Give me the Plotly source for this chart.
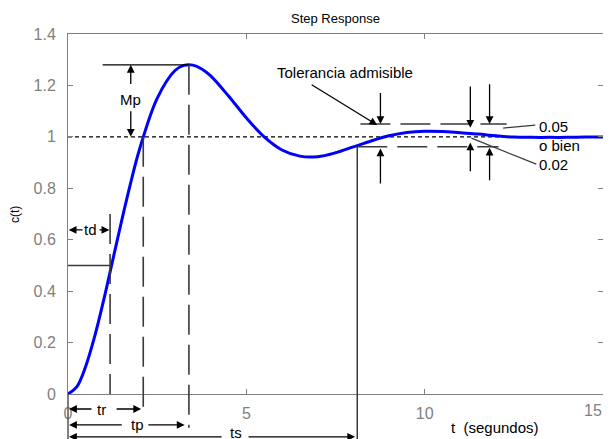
import plotly.graph_objects as go

# ---- data ----
t_vals = [0, 0.25, 0.5, 0.75, 1, 1.25, 1.5, 1.75, 2, 2.5, 3, 3.25, 3.5, 3.75, 4, 4.5, 5, 5.5,
          6, 6.5, 7, 7.5, 8, 8.5, 9, 9.5, 10, 10.5, 11, 11.5, 12, 12.5, 13, 13.5, 14, 14.5, 15]
c_vals = [0, 0.029, 0.109, 0.225, 0.365, 0.518, 0.671, 0.817, 0.949, 1.150, 1.258, 1.278, 1.279,
          1.264, 1.237, 1.159, 1.074, 1.000, 0.949, 0.925, 0.923, 0.938, 0.961, 0.984, 1.004,
          1.017, 1.022, 1.021, 1.016, 1.011, 1.004, 0.999, 0.998, 0.998, 0.998, 0.999, 0.999]

x_ticks = [0, 5, 10, 15]
x_tick_labels = ["0", "5", "10", "15"]
y_ticks = [0, 0.2, 0.4, 0.6, 0.8, 1.0, 1.2, 1.4]
y_tick_labels = ["0", "0.2", "0.4", "0.6", "0.8", "1", "1.2", "1.4"]

X_RANGE = [0, 15]
Y_RANGE = [0, 1.4]

# characteristic values
td = 1.18      # delay time
tr = 2.11      # rise time
tp = 3.39      # peak time
ts = 8.11      # settling time
c_peak = 1.28  # peak value
c_half = 0.5
c_final = 1.0
tol_hi = 1.05
tol_lo = 0.962

FONT = "Liberation Sans, Arial, sans-serif"
DARK = "#3a3a3a"
AXC = "#7f7f7f"


def py(c):
    """data value -> paper fraction on y"""
    return (c - Y_RANGE[0]) / (Y_RANGE[1] - Y_RANGE[0])


fig = go.Figure()
fig.add_trace(go.Scatter(x=t_vals, y=c_vals, mode="lines",
                         line=dict(color="#0000ff", width=3, shape="spline"),
                         hoverinfo="skip"))

shapes = []
LD = "30px,10px"
# final value line
shapes.append(dict(type="line", xref="x", yref="y", x0=0, x1=15, y0=c_final, y1=c_final,
                   line=dict(color="black", width=1.2, dash="4px,3px"), layer="below"))
# peak line
shapes.append(dict(type="line", xref="x", yref="y", x0=0.97, x1=tp, y0=c_peak, y1=c_peak,
                   line=dict(color="black", width=1.3)))
# 0.5 line
shapes.append(dict(type="line", xref="x", yref="y", x0=0, x1=td, y0=c_half, y1=c_half,
                   line=dict(color=DARK, width=1.5)))
# td dashed vertical
shapes.append(dict(type="line", xref="x", yref="y", x0=td, x1=td, y0=0.70, y1=0,
                   line=dict(color=DARK, width=1.6, dash=LD)))
# tr dashed vertical
shapes.append(dict(type="line", xref="x", yref="paper", x0=tr, x1=tr, y0=py(c_final), y1=-0.053,
                   line=dict(color=DARK, width=1.6, dash=LD)))
# tp dashed vertical
shapes.append(dict(type="line", xref="x", yref="paper", x0=tp, x1=tp, y0=py(c_peak), y1=-0.094,
                   line=dict(color=DARK, width=1.6, dash=LD)))
# ts solid vertical
shapes.append(dict(type="line", xref="x", yref="paper", x0=ts, x1=ts, y0=py(tol_lo), y1=-0.2,
                   line=dict(color=DARK, width=1.5)))
# t=0 line below axis
shapes.append(dict(type="line", xref="paper", yref="paper", x0=0, x1=0, y0=0, y1=-0.2,
                   line=dict(color="#555555", width=1.5)))
# tolerance band dashed lines
shapes.append(dict(type="line", xref="x", yref="y", x0=8.2, x1=12.3, y0=tol_hi, y1=tol_hi,
                   line=dict(color=DARK, width=1.5, dash=LD)))
shapes.append(dict(type="line", xref="x", yref="y", x0=ts, x1=12.07, y0=tol_lo, y1=tol_lo,
                   line=dict(color=DARK, width=1.5, dash=LD)))
# leaders to labels
shapes.append(dict(type="line", xref="x", yref="y", x0=12.2, x1=13.1, y0=1.034, y1=1.046,
                   line=dict(color=DARK, width=1.2)))
shapes.append(dict(type="line", xref="x", yref="y", x0=11.31, x1=13.13, y0=0.995, y1=0.894,
                   line=dict(color=DARK, width=1.2)))

ann = []


def arrow_data(hx, hy, tx, ty):
    ann.append(dict(x=hx, y=hy, ax=tx, ay=ty, xref="x", yref="y", axref="x", ayref="y",
                    text="", showarrow=True, arrowhead=2, arrowsize=1.2, arrowwidth=1.3,
                    arrowcolor="black", standoff=0))


def arrow_below(hx, yp, tx):
    ann.append(dict(x=hx, y=yp, ax=tx, ay=0, xref="x", yref="paper", axref="x", ayref="pixel",
                    text="", showarrow=True, arrowhead=2, arrowsize=1.2, arrowwidth=1.3,
                    arrowcolor="black", standoff=0))


def label(x, y, s, xref="x", yref="y", size=15, xanchor="center", yanchor="middle", color="black",
          angle=0, xshift=0):
    ann.append(dict(x=x, y=y, xref=xref, yref=yref, text=s, showarrow=False, xanchor=xanchor,
                    yanchor=yanchor, textangle=angle, xshift=xshift,
                    font=dict(family=FONT, size=size, color=color)))


# Mp
arrow_data(1.76, c_peak, 1.76, 1.20)
arrow_data(1.76, c_final, 1.76, 1.105)
label(1.76, 1.147, "Mp")
# td
arrow_data(0.02, 0.638, 0.45, 0.638)
arrow_data(td - 0.02, 0.638, 0.84, 0.638)
label(0.64, 0.638, "td")
# tolerance arrow
arrow_data(8.67, 1.046, 6.79, 1.206)
label(7.77, 1.249, "Tolerancia admisible")
# vertical arrows
arrow_data(8.76, tol_hi, 8.76, 1.176)
arrow_data(8.76, 0.955, 8.76, 0.813)
arrow_data(11.28, 1.035, 11.28, 1.202)
arrow_data(11.28, 0.978, 11.28, 0.86)
arrow_data(11.82, tol_hi, 11.82, 1.21)
arrow_data(11.82, 0.958, 11.82, 0.825)
# right labels
label(13.16, 1.039, "0.05", xanchor="left")
label(13.16, 0.965, "o bien", xanchor="left")
label(13.16, 0.891, "0.02", xanchor="left")
# below-axis arrows
arrow_below(0.03, -0.0417, 0.70)
arrow_below(tr - 0.06, -0.0417, 1.32)
label(0.95, -0.0417, "tr", yref="paper")
arrow_below(0.03, -0.086, 1.55)
arrow_below(tp - 0.12, -0.086, 2.21)
label(1.94, -0.086, "tp", yref="paper")
arrow_below(0.03, -0.119, 4.35)
arrow_below(ts - 0.06, -0.119, 5.02)
label(4.72, -0.078, "ts", yref="paper", yanchor="top")
# last x tick label, kept inside the page edge
label(x_ticks[-1], -0.046, x_tick_labels[-1], yref="paper", size=16, color=AXC, xanchor="right",
      xshift=1)
# axis titles and title
label(11.98, -0.094, "t\u00a0\u00a0(segundos)", yref="paper")
label(-0.099, 0.497, "c(t)", xref="paper", yref="paper", size=12, angle=-90)
label(0.5, 1.044, "Step Response", xref="paper", yref="paper", size=13)

# the page body adds an 8px offset at the top-left, so the figure is 8px smaller
fig.update_layout(
    width=603, height=431,
    margin=dict(l=60, r=8, t=26, b=45, autoexpand=False),
    paper_bgcolor="white", plot_bgcolor="white",
    showlegend=False,
    shapes=shapes, annotations=ann,
    xaxis=dict(range=X_RANGE, tickvals=x_ticks, ticktext=x_tick_labels[:-1] + [""],
               ticks="inside", ticklen=5,
               tickcolor=AXC, showline=True, linecolor=AXC, linewidth=1, mirror="ticks",
               showgrid=False, zeroline=False, automargin=False, ticklabelstandoff=5,
               tickfont=dict(family=FONT, size=16, color=AXC)),
    yaxis=dict(range=Y_RANGE, tickvals=y_ticks, ticktext=y_tick_labels, ticks="inside", ticklen=5,
               tickcolor=AXC, showline=True, linecolor=AXC, linewidth=1, mirror="ticks",
               showgrid=False, zeroline=False, ticklabelstandoff=8, automargin=False,
               tickfont=dict(family=FONT, size=16, color=AXC)),
)

fig.write_html("out.html")
